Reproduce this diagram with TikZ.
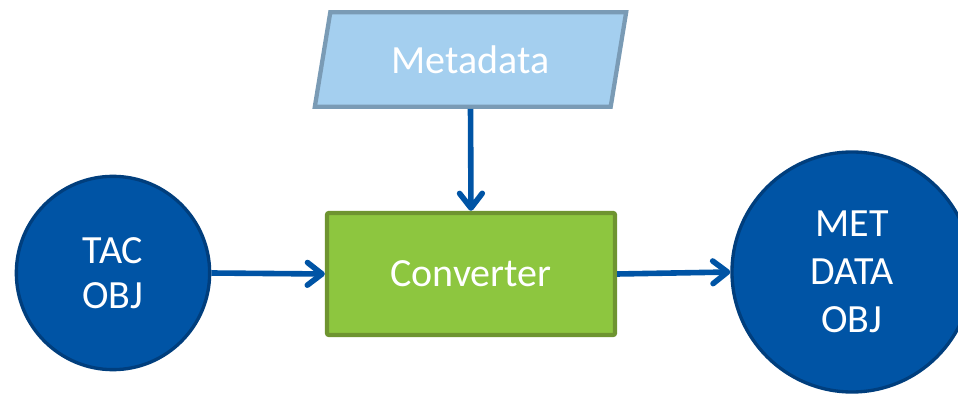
\documentclass[tikz,border=0pt]{standalone}
\usepackage{fontspec}
\setmainfont{Carlito}
\usetikzlibrary{arrows.meta,shapes.geometric}

\definecolor{objblue}{RGB}{0,84,165}
\definecolor{objedge}{RGB}{0,62,125}
\definecolor{convgreen}{RGB}{141,198,63}
\definecolor{convedge}{RGB}{110,148,48}
\definecolor{metafill}{RGB}{164,207,239}
\definecolor{metaedge}{RGB}{122,155,181}

\tikzset{
  obj/.style={circle,draw=objedge,fill=objblue,line width=2.5pt,text=white,
    align=center,inner sep=0pt,font=\fontsize{30}{35}\selectfont},
  proc/.style={rectangle,rounded corners=1.5pt,draw=convedge,fill=convgreen,
    line width=3.2pt,text=white,font=\fontsize{30}{36}\selectfont},
  datain/.style={trapezium,trapezium left angle=76,trapezium right angle=104,
    trapezium stretches=true,draw=metaedge,fill=metafill,line width=3.2pt,
    text=white,font=\fontsize{30}{36}\selectfont},
  flow/.style={draw=objblue,line width=4.2pt,
    -{Straight Barb[round,length=11pt,width=17pt]}}
}

\begin{document}
\begin{tikzpicture}[x=0.75pt,y=-0.75pt]
  \useasboundingbox (0,0) rectangle (958,395);
  \clip (0,0) rectangle (958,395);

  \node[datain,minimum width=234pt,minimum height=71pt] (meta) at (470.5,59.5) {Metadata};
  \node[proc,minimum width=216pt,minimum height=91.5pt] (conv) at (471,274) {Converter};
  \node[obj,minimum size=145pt,font=\fontsize{30}{34}\selectfont] (tac) at (113,273) {TAC\\OBJ};
  \node[obj,minimum size=180pt,font=\fontsize{30}{36}\selectfont] (met) at (852,272) {MET\\DATA\\OBJ};

  \draw[flow] (meta.south) -- (conv.north);
  \draw[flow] (tac.east) -- (conv.west);
  \draw[flow] (conv.east) -- (met.west);
\end{tikzpicture}
\end{document}
